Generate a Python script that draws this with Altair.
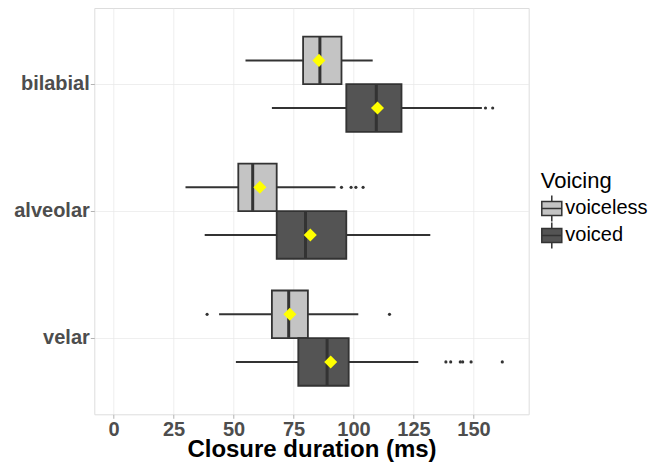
import altair as alt
import pandas as pd

places = ["bilabial", "alveolar", "velar"]
voicings = ["voiceless", "voiced"]

# one entry per box: bilabial/voiceless, bilabial/voiced, alveolar/..., velar/...
box_place = ["bilabial", "bilabial", "alveolar", "alveolar", "velar", "velar"]
box_voicing = ["voiceless", "voiced", "voiceless", "voiced", "voiceless", "voiced"]
whisker_lo = [55, 66, 30, 38, 44, 51]
q1 = [79, 97, 52, 68, 66, 77]
median = [86, 109.5, 58, 80, 73, 89]
q3 = [95, 120, 68, 97, 81, 98]
whisker_hi = [108, 153.5, 92.5, 132, 102, 127]
mean = [85.6, 110, 61, 82, 73.5, 90.5]

out_place = ["bilabial", "bilabial",
             "alveolar", "alveolar", "alveolar", "alveolar",
             "velar", "velar",
             "velar", "velar", "velar", "velar", "velar", "velar"]
out_voicing = ["voiced", "voiced",
               "voiceless", "voiceless", "voiceless", "voiceless",
               "voiceless", "voiceless",
               "voiced", "voiced", "voiced", "voiced", "voiced", "voiced"]
out_value = [155, 158,
             95, 99, 101, 104,
             39, 115,
             138.5, 140.5, 144.5, 145.5, 149, 162]

x_ticks = [0, 12.5, 25, 37.5, 50, 62.5, 75, 87.5, 100, 112.5, 125, 137.5, 150, 162.5]
fill_colors = ["#C4C4C4", "#545454"]

boxes = pd.DataFrame({"place": box_place, "voicing": box_voicing, "lo": whisker_lo,
                      "q1": q1, "med": median, "q3": q3, "hi": whisker_hi, "mean": mean})
outliers = pd.DataFrame({"place": out_place, "voicing": out_voicing, "value": out_value})

FONT = "Liberation Sans"

y_enc = alt.Y("place:N", sort=places,
              scale=alt.Scale(domain=places, paddingInner=0, paddingOuter=0.1),
              axis=alt.Axis(title=None, labelFontSize=20, labelFontWeight="bold",
                            labelColor="#4D4D4D", labelFont=FONT, tickSize=4,
                            tickColor="#B3B3B3", labelPadding=1, domain=False,
                            grid=True, gridColor="#E6E6E6", gridWidth=0.7,
                            bandPosition=0.5))
yoff = alt.YOffset("voicing:N", sort=voicings,
                   scale=alt.Scale(domain=voicings, paddingInner=0, paddingOuter=1/3))

x_scale = alt.Scale(domain=[-8, 173], nice=False, zero=False)
x_axis = alt.Axis(title="Closure duration (ms)", values=x_ticks,
                  labelExpr="datum.value % 25 === 0 ? datum.label : ''",
                  labelFontSize=20, labelFontWeight="bold", labelColor="#4D4D4D",
                  labelFont=FONT, titleFont=FONT, titleFontSize=24,
                  titleFontWeight="bold", titleColor="black", titlePadding=-2,
                  tickSize=4, labelPadding=1, domain=False, grid=True,
                  gridColor="#E6E6E6",
                  gridWidth={"condition": {"test": "datum.value % 25 !== 0", "value": 0.4},
                             "value": 0.7},
                  tickColor={"condition": {"test": "datum.value % 25 !== 0", "value": "transparent"},
                             "value": "#B3B3B3"})

legend_path = "M-1,-0.7H1V0.7H-1Z M-1,0H1 M0,-0.7V-1.3 M0,0.7V1.3"

base = alt.Chart(boxes)

whiskers = base.mark_rule(color="#333333", strokeWidth=2).encode(
    x=alt.X("lo:Q", scale=x_scale, axis=x_axis),
    x2="hi:Q", y=y_enc, yOffset=yoff)

box = base.mark_bar(stroke="#333333", strokeWidth=1.8).encode(
    x=alt.X("q1:Q", scale=x_scale), x2="q3:Q", y=y_enc, yOffset=yoff,
    fill=alt.Fill("voicing:N", sort=voicings,
                  scale=alt.Scale(domain=voicings, range=fill_colors),
                  legend=alt.Legend(title="Voicing", orient="none", legendX=446.5,
                                    legendY=163.4, titleFont=FONT, titleFontSize=22,
                                    titleFontWeight="normal", titleColor="black",
                                    labelFont=FONT, labelFontSize=20, labelColor="black",
                                    symbolType=legend_path, symbolSize=400,
                                    symbolStrokeColor="#333333", symbolStrokeWidth=1.5,
                                    symbolOpacity=1, labelOffset=2.5, rowPadding=-5,
                                    titlePadding=4, padding=0)))

med = base.mark_tick(color="#333333", thickness=3, size=47, orient="vertical",
                     opacity=1).encode(
    x=alt.X("med:Q", scale=x_scale), y=y_enc, yOffset=yoff)

means = base.mark_point(shape="diamond", filled=True, color="#FFFF00", size=170,
                        opacity=1).encode(
    x=alt.X("mean:Q", scale=x_scale), y=y_enc, yOffset=yoff)

outs = alt.Chart(outliers).mark_circle(color="#333333", size=10, opacity=1).encode(
    x=alt.X("value:Q", scale=x_scale), y=y_enc, yOffset=yoff)

chart = alt.layer(whiskers, box, med, means, outs).properties(
    width=434.4, height=406.3,
    autosize=alt.AutoSizeParams(type="none"),
    padding={"left": 86.3, "top": 0, "right": 125, "bottom": 48},
).configure_view(stroke="#B3B3B3", strokeWidth=1).configure(font=FONT)

chart.save("out.html", embed_options={"renderer": "svg", "actions": False})
